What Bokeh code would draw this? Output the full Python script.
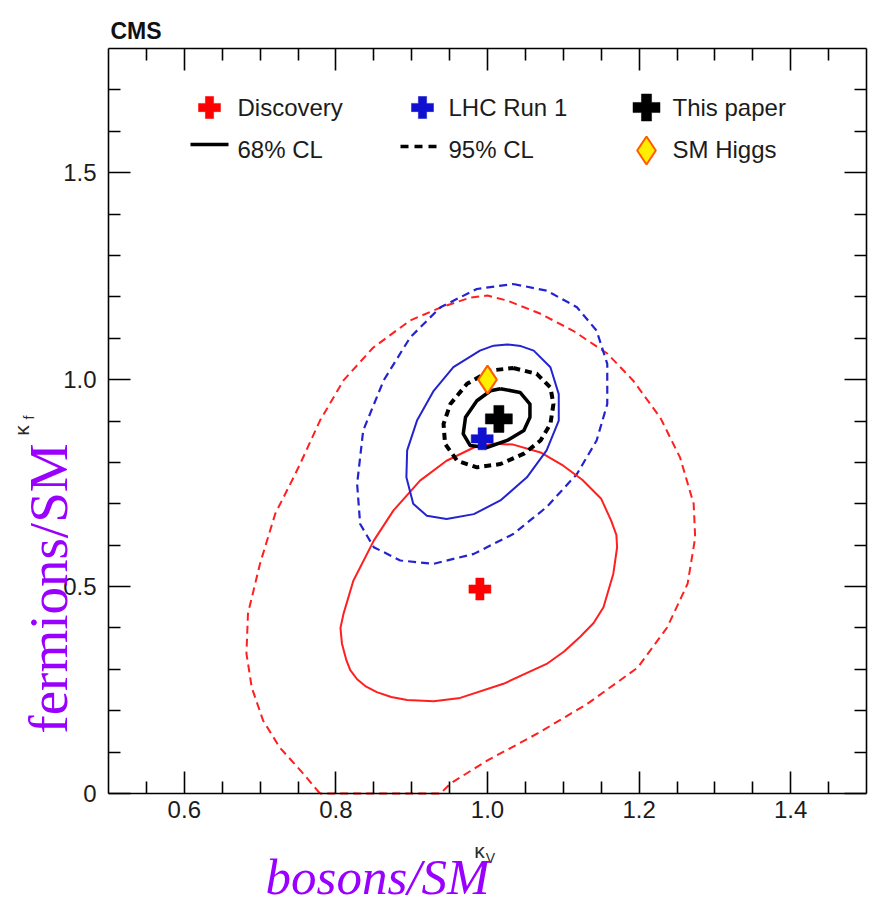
import numpy as np
from bokeh.plotting import figure
from bokeh.models import LinearAxis, FixedTicker, Label, Range1d
from bokeh.embed import file_html
from bokeh.resources import INLINE

# ---------------------------------------------------------------------------
# Higgs boson couplings: kappa_V (vector bosons) vs kappa_f (fermions)
# ---------------------------------------------------------------------------

# best-fit points
POINT_NAMES = ["Discovery", "LHC Run 1", "This paper"]
BEST_KV = [0.990, 0.993, 1.015]
BEST_KF = [0.494, 0.857, 0.905]
SM_KV, SM_KF = [1.0], [1.0]

# Discovery (2012) contours
DISC68_KV = [1.008, 0.982, 0.946, 0.911, 0.876, 0.850, 0.823, 0.810, 0.806, 0.808,
             0.814, 0.819, 0.828, 0.840, 0.854, 0.873, 0.894, 0.929, 0.964, 1.021,
             1.078, 1.101, 1.122, 1.140, 1.153, 1.166, 1.171, 1.170, 1.163, 1.150,
             1.125, 1.100, 1.070, 1.034]
DISC68_KF = [0.845, 0.836, 0.804, 0.756, 0.684, 0.611, 0.514, 0.434, 0.400, 0.362,
             0.321, 0.298, 0.276, 0.258, 0.245, 0.233, 0.226, 0.223, 0.231, 0.265,
             0.313, 0.343, 0.378, 0.412, 0.450, 0.531, 0.595, 0.625, 0.660, 0.712,
             0.758, 0.792, 0.824, 0.843]
DISC95_KV = [0.779, 0.757, 0.726, 0.704, 0.689, 0.682, 0.684, 0.700, 0.720, 0.742,
             0.753, 0.779, 0.810, 0.849, 0.898, 0.938, 0.977, 1.000, 1.026, 1.070,
             1.113, 1.158, 1.192, 1.228, 1.254, 1.272, 1.274, 1.264, 1.237, 1.198,
             1.132, 1.066, 1.000, 0.951, 0.938]
DISC95_KF = [0.000, 0.048, 0.111, 0.176, 0.256, 0.338, 0.435, 0.556, 0.676, 0.756,
             0.797, 0.901, 0.998, 1.077, 1.143, 1.174, 1.198, 1.203, 1.191, 1.159,
             1.118, 1.063, 0.998, 0.908, 0.812, 0.700, 0.618, 0.507, 0.401, 0.304,
             0.217, 0.145, 0.080, 0.024, 0.000]

# LHC Run 1 combination contours
RUN1_68_KV = [1.008, 1.026, 1.044, 1.061, 1.083, 1.094, 1.094, 1.078, 1.052, 1.017,
              0.982, 0.946, 0.920, 0.902, 0.893, 0.894, 0.907, 0.929, 0.955, 0.990]
RUN1_68_KF = [1.082, 1.085, 1.081, 1.070, 1.030, 0.965, 0.901, 0.829, 0.764, 0.708,
              0.675, 0.663, 0.671, 0.700, 0.764, 0.829, 0.901, 0.973, 1.030, 1.070]
RUN1_95_KV = [1.034, 1.078, 1.118, 1.144, 1.158, 1.158, 1.144, 1.118, 1.078, 1.034,
              0.982, 0.929, 0.885, 0.850, 0.832, 0.828, 0.836, 0.863, 0.898, 0.938,
              0.986]
RUN1_95_KF = [1.231, 1.215, 1.175, 1.118, 1.038, 0.941, 0.853, 0.772, 0.692, 0.627,
              0.579, 0.555, 0.563, 0.595, 0.651, 0.748, 0.877, 0.998, 1.102, 1.175,
              1.219]

# This paper (Run 2) contours
RUN2_68_KV = [1.017, 1.043, 1.056, 1.056, 1.048, 1.026, 0.999, 0.977, 0.968, 0.971,
              0.986, 1.004]
RUN2_68_KF = [0.978, 0.969, 0.941, 0.909, 0.877, 0.853, 0.836, 0.841, 0.869, 0.909,
              0.949, 0.973]
RUN2_95_KV = [1.034, 1.065, 1.083, 1.087, 1.083, 1.070, 1.048, 1.017, 0.986, 0.960,
              0.944, 0.942, 0.951, 0.973, 1.004]
RUN2_95_KF = [1.028, 1.014, 0.981, 0.941, 0.893, 0.853, 0.821, 0.796, 0.788, 0.804,
              0.845, 0.893, 0.941, 0.990, 1.022]

# axes
X_RANGE = (0.5, 1.5)
Y_RANGE = (0.0, 1.8)
X_MAJOR = [0.6, 0.8, 1.0, 1.2, 1.4]
X_LABELS = ["0.6", "0.8", "1.0", "1.2", "1.4"]
X_MINOR = [0.55, 0.65, 0.7, 0.75, 0.85, 0.9, 0.95, 1.05, 1.1, 1.15, 1.25, 1.3, 1.35, 1.45]
Y_MAJOR = [0.0, 0.5, 1.0, 1.5]
Y_LABELS = ["0", "0.5", "1.0", "1.5"]
Y_MINOR = [0.1, 0.2, 0.3, 0.4, 0.6, 0.7, 0.8, 0.9, 1.1, 1.2, 1.3, 1.4, 1.6, 1.7]

# ---------------------------------------------------------------------------
# layout (pixels): the plotting box sits inside the canvas, the canvas itself
# is mapped onto data space so that the captions can live around the box
W, H = 880, 906
BOX_L, BOX_R, BOX_T, BOX_B = 108, 866, 48, 793

RED = "#ff1f1f"
BLUE = "#2323cf"
BLACK = "#000000"
TEXT = "#1c1c1c"
PURPLE = "#9a00ff"
SANS = "Liberation Sans"
SERIF = "Liberation Serif"


def fx(px):
    """horizontal pixel position -> kappa_V"""
    return X_RANGE[0] + (px - BOX_L) / (BOX_R - BOX_L) * (X_RANGE[1] - X_RANGE[0])


def fy(py):
    """vertical pixel position -> kappa_f"""
    return Y_RANGE[0] + (BOX_B - py) / (BOX_B - BOX_T) * (Y_RANGE[1] - Y_RANGE[0])


def closed(a):
    return list(a) + [a[0]]


p = figure(width=W, height=H, x_range=Range1d(fx(0), fx(W)), y_range=Range1d(fy(H), fy(0)),
           output_backend="svg", toolbar_location=None,
           min_border_left=0, min_border_right=0, min_border_top=0, min_border_bottom=0)
p.title.visible = False
p.xgrid.visible = False
p.ygrid.visible = False
p.outline_line_color = None
p.background_fill_color = "white"
p.border_fill_color = "white"


def style_axis(ax, ticks, minor, loc, bounds, labels=None, standoff=0):
    ax.fixed_location = loc
    ax.bounds = bounds
    ax.ticker = FixedTicker(ticks=ticks, minor_ticks=minor)
    ax.axis_line_color = BLACK
    ax.axis_line_width = 1.6
    ax.major_tick_line_color = BLACK
    ax.major_tick_line_width = 1.6
    ax.minor_tick_line_color = BLACK
    ax.minor_tick_line_width = 1.6
    ax.major_tick_in = 22
    ax.major_tick_out = 0
    ax.minor_tick_in = 12
    ax.minor_tick_out = 0
    ax.major_label_standoff = standoff
    if labels is None:
        ax.major_label_text_font_size = "0px"
        ax.major_label_text_alpha = 0
    else:
        ax.major_label_overrides = {t: s for t, s in zip(ticks, labels)}
        ax.major_label_text_font = SANS
        ax.major_label_text_font_size = "24px"
        ax.major_label_text_color = TEXT


style_axis(p.xaxis[0], X_MAJOR, X_MINOR, Y_RANGE[0], X_RANGE, X_LABELS, standoff=7)
style_axis(p.yaxis[0], Y_MAJOR, Y_MINOR, X_RANGE[0], Y_RANGE, Y_LABELS, standoff=12)
top_ax = LinearAxis()
right_ax = LinearAxis()
style_axis(top_ax, X_MAJOR, X_MINOR, Y_RANGE[1], X_RANGE)
style_axis(right_ax, Y_MAJOR, Y_MINOR, X_RANGE[1], Y_RANGE)
p.add_layout(top_ax, "above")
p.add_layout(right_ax, "right")

# contours
p.line(closed(DISC95_KV), closed(DISC95_KF), line_color=RED, line_width=2, line_dash="8 5",
       line_join="round")
p.line(closed(RUN1_95_KV), closed(RUN1_95_KF), line_color=BLUE, line_width=2.2,
       line_dash="8 5", line_join="round")
p.line(closed(DISC68_KV), closed(DISC68_KF), line_color=RED, line_width=2, line_join="round")
p.line(closed(RUN1_68_KV), closed(RUN1_68_KF), line_color=BLUE, line_width=2, line_join="round")
p.line(closed(RUN2_95_KV), closed(RUN2_95_KF), line_color=BLACK, line_width=4, line_dash="7 5",
       line_join="round")
p.line(closed(RUN2_68_KV), closed(RUN2_68_KF), line_color=BLACK, line_width=3.5,
       line_join="round")

# best-fit markers and SM expectation
MARK_COLORS = ["#ff0000", "#1010d0", "#000000"]
MARK_SIZES = [22, 22, 27]
for kv, kf, c, s in zip(BEST_KV, BEST_KF, MARK_COLORS, MARK_SIZES):
    p.scatter([kv], [kf], marker="plus", size=s, fill_color=c, line_color=c, line_width=0.5)
p.scatter(SM_KV, SM_KF, marker="diamond", size=28, fill_color="#ffee00",
          line_color="#ff5a00", line_width=2)

# key
COL_GLYPH_PX = [209, 422, 646]
COL_TEXT_PX = [237, 448, 672]
ROW1_PY, ROW2_PY = 107, 149
for name, gx, tx, c, s in zip(POINT_NAMES, COL_GLYPH_PX, COL_TEXT_PX, MARK_COLORS, MARK_SIZES):
    p.scatter([fx(gx)], [fy(ROW1_PY)], marker="plus", size=s, fill_color=c, line_color=c,
              line_width=0.5)
    p.add_layout(Label(x=fx(tx), y=fy(ROW1_PY), text=name, text_font=SANS,
                       text_font_size="24px", text_color=TEXT, text_baseline="middle"))
p.line([fx(190), fx(228)], [fy(ROW2_PY - 5)] * 2, line_color=BLACK, line_width=3.5)
p.line([fx(400), fx(441)], [fy(ROW2_PY - 3)] * 2, line_color=BLACK, line_width=3.5,
       line_dash="8 6")
p.scatter([fx(COL_GLYPH_PX[2])], [fy(ROW2_PY + 1)], marker="diamond", size=28,
          fill_color="#ffee00", line_color="#ff5a00", line_width=2)
for txt, tx in zip(["68% CL", "95% CL", "SM Higgs"], COL_TEXT_PX):
    p.add_layout(Label(x=fx(tx), y=fy(ROW2_PY), text=txt, text_font=SANS,
                       text_font_size="24px", text_color=TEXT, text_baseline="middle"))

# experiment tag
p.add_layout(Label(x=fx(110), y=fy(30), text="CMS", text_font=SANS, text_font_size="23px",
                   text_font_style="bold", text_color="#111111", text_baseline="middle"))

# axis titles
p.add_layout(Label(x=fx(479), y=fy(850), text="κ", text_font=SANS, text_font_size="21px",
                   text_color="#2a2a2a", text_align="center", text_baseline="middle"))
p.add_layout(Label(x=fx(490), y=fy(857), text="V", text_font=SANS, text_font_size="14px",
                   text_color="#2a2a2a", text_align="center", text_baseline="middle"))
p.add_layout(Label(x=fx(21), y=fy(430), text="κ", text_font=SANS, text_font_size="21px",
                   text_color="#2a2a2a", text_align="center", text_baseline="middle",
                   angle=np.pi / 2))
p.add_layout(Label(x=fx(28), y=fy(417), text="f", text_font=SANS, text_font_size="14px",
                   text_color="#2a2a2a", text_align="center", text_baseline="middle",
                   angle=np.pi / 2))

# plain-language captions
p.add_layout(Label(x=fx(377), y=fy(876), text="bosons/SM", text_font=SERIF,
                   text_font_size="51px", text_font_style="italic", text_color=PURPLE,
                   text_align="center", text_baseline="alphabetic"))
p.add_layout(Label(x=fx(48), y=fy(588), text="fermions/SM", text_font=SERIF,
                   text_font_size="55px", text_color=PURPLE, text_align="center",
                   text_baseline="alphabetic", angle=np.pi / 2))

open("out.html", "w").write(file_html(p, INLINE))
